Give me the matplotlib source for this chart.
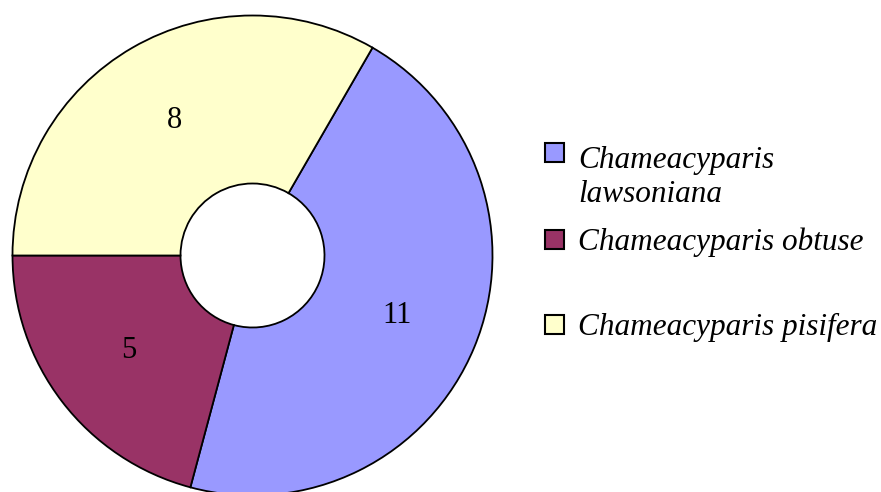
import matplotlib.pyplot as plt
from matplotlib.patches import Rectangle

# species counts, in the order Excel draws them (clockwise from 30 deg)
species = ["Chameacyparis\nlawsoniana", "Chameacyparis obtuse", "Chameacyparis pisifera"]
counts = [11, 5, 8]
colors = ["#9999FF", "#993366", "#FFFFCC"]

W, H = 881, 492
fig = plt.figure(figsize=(W / 100, H / 100), dpi=100)

# donut: centre at (252.5, 255.5) px, outer radius 240 px
cx, cy, r = 252.5, 255.5, 240
ax = fig.add_axes([(cx - r) / W, (H - cy - r) / H, 2 * r / W, 2 * r / H])

total = sum(counts)
wedges, texts, autotexts = ax.pie(
    counts, colors=colors, startangle=60, counterclock=False,
    autopct=lambda p: f"{round(p * total / 100)}", pctdistance=0.65,
    wedgeprops=dict(width=0.7, edgecolor="black", linewidth=1.3),
    textprops=dict(family="Liberation Serif", fontsize=22, color="black"),
)
ax.set_xlim(-1, 1)
ax.set_ylim(-1, 1)
ax.set_aspect("equal")
ax.axis("off")

# legend drawn by hand so the wrapped label sits like the original
# (text_y is the baseline of each label's last line)
marker_y = [152, 239, 324]
text_y = [202, 250, 335]
for lab, col, my, ty in zip(species, colors, marker_y, text_y):
    sz = 19
    fig.add_artist(Rectangle((545 / W, (H - my - sz / 2) / H), sz / W, sz / H,
                             transform=fig.transFigure, facecolor=col,
                             edgecolor="black", linewidth=1.5))
    fig.text(578 / W, (H - ty) / H, lab, family="Liberation Serif", style="italic",
             fontsize=22.5, va="baseline", ha="left", linespacing=1.22)

fig.savefig("out.png", dpi=100)
